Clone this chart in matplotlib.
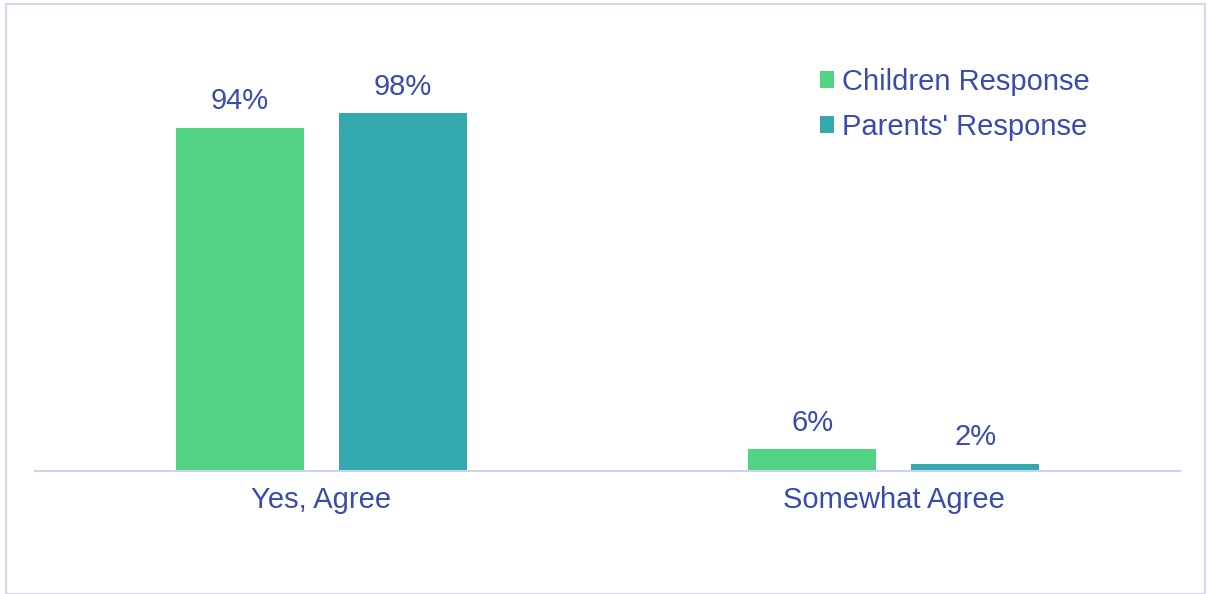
import matplotlib.pyplot as plt
import numpy as np
from matplotlib.patches import Rectangle

plt.rcParams['font.family'] = ['Liberation Sans', 'DejaVu Sans']

# Data
categories = ['Yes, Agree', 'Somewhat Agree']
children = [94, 6]
parents = [98, 2]
series_names = ['Children Response', "Parents' Response"]

text_color = '#3a4bb0'
green = '#52d383'
teal = '#33a9af'

fig = plt.figure(figsize=(12.09, 5.94), dpi=100)
ax = fig.add_axes([35 / 1209, 1 - 471 / 594, 1145 / 1209, 431 / 594])

# Border around the whole chart
fig.patches.append(Rectangle((6 / 1209, 0.0), 1199 / 1209, 1 - 4 / 594,
                             transform=fig.transFigure, fill=False,
                             edgecolor='#d4d8f2', linewidth=1.5))

x = np.arange(len(categories))
w = 0.224
off = 0.1425
b1 = ax.bar(x - off, children, w, color=green, label=series_names[0])
b2 = ax.bar(x + off, parents, w, color=teal, label=series_names[1])

for bars, vals in [(b1, children), (b2, parents)]:
    for rect, v in zip(bars, vals):
        ax.annotate(f'{v}%', (rect.get_x() + rect.get_width() / 2, rect.get_height()),
                    xytext=(0, 9), textcoords='offset points', ha='center', va='bottom',
                    fontsize=21, color=text_color)

ax.set_xlim(-0.5, 1.5)
ax.set_ylim(0, 431 / 3.65)
ax.set_xticks(x)
ax.set_xticklabels(categories, fontsize=21, color=text_color)
ax.tick_params(axis='x', length=0, pad=11)
ax.set_yticks([])
for s in ['top', 'right', 'left']:
    ax.spines[s].set_visible(False)
ax.spines['bottom'].set_color('#cdd3ef')
ax.spines['bottom'].set_linewidth(1.5)

leg = ax.legend(loc='upper left', bbox_to_anchor=((808 - 35) / 1145, (471 - 56) / 431),
                frameon=False, fontsize=21, handlelength=0.5, handleheight=0.5,
                handletextpad=0.25, labelspacing=0.6, borderaxespad=0)
for t in leg.get_texts():
    t.set_color(text_color)

fig.savefig('out.png', dpi=100)
